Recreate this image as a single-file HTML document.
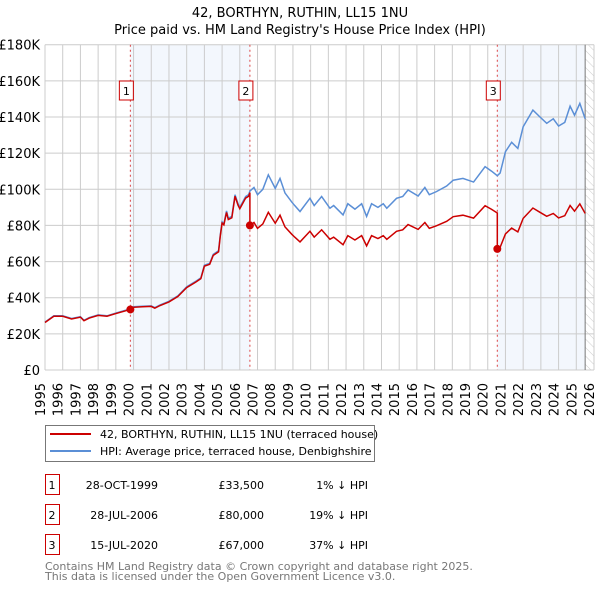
<!DOCTYPE html>
<html><head><meta charset="utf-8"><style>
body{margin:0;background:#fff;font-family:"Liberation Sans","DejaVu Sans",sans-serif;}
svg text{font-family:"DejaVu Sans","Liberation Sans",sans-serif;}
</style></head><body>
<svg id="c" width="600" height="590" xmlns="http://www.w3.org/2000/svg"></svg>
<script>
const hpiYears=[1995.0,1995.5,1996.0,1996.5,1997.0,1997.2,1997.5,1998.0,1998.5,1999.0,1999.82,2000.0,2000.5,2001.0,2001.2,2001.5,2002.0,2002.5,2003.0,2003.5,2003.8,2004.0,2004.3,2004.5,2004.8,2004.9,2005.0,2005.1,2005.25,2005.35,2005.55,2005.73,2005.9,2006.0,2006.33,2006.5,2006.57,2006.8,2007.0,2007.3,2007.61,2008.0,2008.27,2008.55,2008.93,2009.1,2009.4,2009.96,2010.2,2010.62,2011.09,2011.3,2011.83,2012.1,2012.5,2012.88,2013.16,2013.44,2013.8,2014.1,2014.3,2014.85,2015.2,2015.5,2016.07,2016.45,2016.7,2017.1,2017.68,2018.05,2018.6,2019.2,2019.85,2020.22,2020.54,2020.7,2021.0,2021.35,2021.7,2022.0,2022.55,2022.95,2023.33,2023.7,2024.0,2024.35,2024.65,2024.9,2025.2,2025.5];
const hpiValues=[26.5,30,30,28.5,29.5,27.5,29,30.5,30,31.5,33.8,35,35.3,35.5,34.5,36,38,41,46,49,51,58,59,64,66,75,82,81,88,84,85,97,92,90,96,97,99,101,97,100,108,100.5,106,98,93,91,87.7,95,91,96,89.5,91,85.8,92,89,92,85,92,90,92,89.5,95,96,99.6,96.3,101,97,98.7,101.8,105,106,104,112.5,110,107.5,109,120.8,126,122.6,134.6,143.8,140,136.5,139,135,137,146,141,147.5,139];
const saleYears=[1999.82,2006.57,2020.54];
const salePrices=[33.5,80,67];
const saleLabels=["1","2","3"];
const yTicks=[0,20,40,60,80,100,120,140,160,180];
const yTickLabels=["£0","£20K","£40K","£60K","£80K","£100K","£120K","£140K","£160K","£180K"];
const xTicks=[1995,1996,1997,1998,1999,2000,2001,2002,2003,2004,2005,2006,2007,2008,2009,2010,2011,2012,2013,2014,2015,2016,2017,2018,2019,2020,2021,2022,2023,2024,2025,2026];

const svg=document.getElementById('c');const NS='http://www.w3.org/2000/svg';
const X0=45,X1=594,Y0=370,Y1=44.7;
const xs=t=>X0+(t-1995)/(2026-1995)*(X1-X0);
const ys=v=>Y0-v/180*(Y0-Y1);
function mk(tag,attrs,parent){const e=document.createElementNS(NS,tag);for(const k in attrs)e.setAttribute(k,attrs[k]);(parent||svg).appendChild(e);return e;}
function txt(s,attrs){const e=mk('text',attrs);e.textContent=s;return e;}
const hpiAt=t=>{for(let i=0;i<hpiYears.length-1;i++){if(t>=hpiYears[i]&&t<=hpiYears[i+1]){const f=(t-hpiYears[i])/(hpiYears[i+1]-hpiYears[i]);return hpiValues[i]+f*(hpiValues[i+1]-hpiValues[i]);}}return hpiValues[hpiValues.length-1];};

let e=txt('42, BORTHYN, RUTHIN, LL15 1NU',{x:300,y:17,'text-anchor':'middle','font-size':13,fill:'#000'});

e=txt("Price paid vs. HM Land Registry's House Price Index (HPI)",{x:300,y:34,'text-anchor':'middle','font-size':13,fill:'#000'});


e=mk('rect',{x:xs(saleYears[0]),y:Y1,width:xs(saleYears[1])-xs(saleYears[0]),height:Y0-Y1,fill:'#eef3fc',opacity:0.7});

e=mk('rect',{x:xs(saleYears[2]),y:Y1,width:xs(2025.5)-xs(saleYears[2]),height:Y0-Y1,fill:'#eef3fc',opacity:0.7});

const defs=mk('defs',{});const pat=mk('pattern',{id:'h',width:6,height:6,patternUnits:'userSpaceOnUse',patternTransform:'rotate(-45)'},defs);
mk('line',{x1:0,y1:0,x2:0,y2:6,stroke:'#ccc','stroke-width':1},pat);
e=mk('rect',{x:xs(2025.5),y:Y1,width:X1-xs(2025.5),height:Y0-Y1,fill:'url(#h)'});


yTicks.forEach((v,i)=>{let l=mk('line',{x1:X0,x2:X1,y1:ys(v),y2:ys(v),stroke:'#cccccc','stroke-width':1});

let t=txt(yTickLabels[i],{x:40,y:ys(v)+5,'text-anchor':'end','font-size':13,fill:'#000'});
});
xTicks.forEach(y=>{let l=mk('line',{x1:xs(y),x2:xs(y),y1:Y1,y2:Y0,stroke:'#cccccc','stroke-width':1});

let t=txt(String(y),{x:xs(y),y:Y0+13,'text-anchor':'end','font-size':13,fill:'#000',transform:`rotate(-90 ${xs(y)} ${Y0+13})`});
});
e=mk('line',{x1:xs(2025.5),x2:xs(2025.5),y1:Y1,y2:Y0,stroke:'#777','stroke-width':1});


saleYears.forEach((s,i)=>{let l=mk('line',{x1:xs(s),x2:xs(s),y1:Y1,y2:Y0,stroke:'#dd4444','stroke-width':1,'stroke-dasharray':'2,3'});

let r=mk('rect',{x:xs(s)-11,y:81,width:14,height:19,fill:'#fff',stroke:'#cc0000','stroke-width':1});

let t=txt(saleLabels[i],{x:xs(s)-4,y:95,'text-anchor':'middle','font-size':11,fill:'#000'});
});

e=mk('polyline',{points:hpiYears.map((t,i)=>xs(t)+','+ys(hpiValues[i])).join(' '),fill:'none',stroke:'#5b8fd6','stroke-width':1.5});


const factors=saleYears.map((s,i)=>salePrices[i]/hpiAt(s));
const pts=[];
hpiYears.forEach((t,i)=>{let k=-1;for(let j=0;j<saleYears.length;j++)if(t>=saleYears[j])k=j;
const f=k<0?factors[0]:factors[k];
saleYears.forEach((s,j)=>{const prev=pts.length?pts[pts.length-1][0]:0;if(s>prev&&s<=t){const pf=j===0?factors[0]:factors[j-1];pts.push([s,hpiAt(s)*pf]);pts.push([s,salePrices[j]]);}});
pts.push([t,hpiValues[i]*f]);});
e=mk('polyline',{points:pts.map(p=>xs(p[0])+','+ys(p[1])).join(' '),fill:'none',stroke:'#cc0000','stroke-width':1.5});

saleYears.forEach((s,i)=>{let c=mk('circle',{cx:xs(s),cy:ys(salePrices[i]),r:4,fill:'#cc0000'});
});

e=mk('rect',{x:45.5,y:425.5,width:329,height:36,fill:'#fff',stroke:'#777','stroke-width':1});

mk('line',{x1:50,x2:91,y1:434,y2:434,stroke:'#cc0000','stroke-width':2});
mk('line',{x1:50,x2:91,y1:451,y2:451,stroke:'#5b8fd6','stroke-width':2});
e=txt('42, BORTHYN, RUTHIN, LL15 1NU (terraced house)',{x:100,y:438,'font-size':11,fill:'#000'});

e=txt('HPI: Average price, terraced house, Denbighshire',{x:100,y:455,'font-size':11,fill:'#000'});


const rows=[["1","28-OCT-1999","£33,500","1% ↓ HPI"],["2","28-JUL-2006","£80,000","19% ↓ HPI"],["3","15-JUL-2020","£67,000","37% ↓ HPI"]];
rows.forEach((r,i)=>{const y=483+i*30;
let b=mk('rect',{x:45.5,y:y-8.5,width:14,height:20,fill:'#fff',stroke:'#cc0000','stroke-width':1});

let t=txt(r[0],{x:52,y:y+6,'text-anchor':'middle','font-size':11});
t=txt(r[1],{x:158,y:y+6,'text-anchor':'end','font-size':11});
t=txt(r[2],{x:264,y:y+6,'text-anchor':'end','font-size':11});
t=txt(r[3],{x:368,y:y+6,'text-anchor':'end','font-size':11});});
e=txt('Contains HM Land Registry data © Crown copyright and database right 2025.',{x:45,y:570,'font-size':11,fill:'#777'});

e=txt('This data is licensed under the Open Government Licence v3.0.',{x:45,y:580,'font-size':11,fill:'#777'});

</script></body></html>
